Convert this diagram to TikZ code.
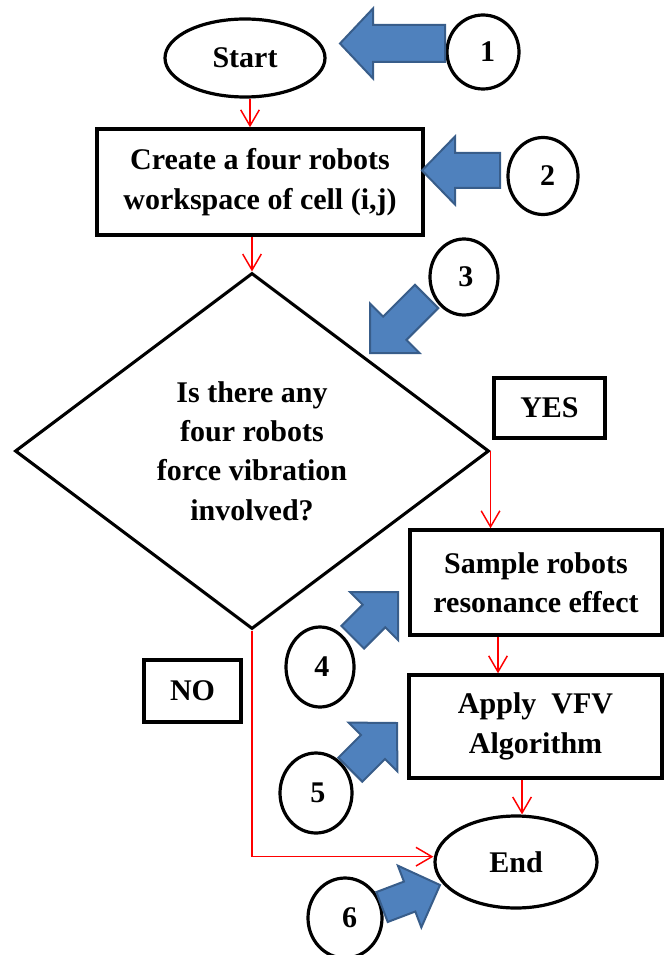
\documentclass[tikz,border=0pt]{standalone}
\usepackage{fontspec}
\setmainfont{Liberation Serif}
\usetikzlibrary{shapes.geometric,arrows.meta,calc}
\definecolor{arrowblue}{RGB}{79,129,189}
\definecolor{arrowedge}{RGB}{56,93,138}
\newcommand{\pxu}{*0.75pt}
\newcommand{\bluearrow}[7]{%
  \begin{scope}[shift={(#1,#2)},rotate=#3]
    \draw[barrow] (0,0) -- (-#5,#6) -- (-#5,#7) -- (-#4,#7) -- (-#4,-#7) -- (-#5,-#7) -- (-#5,-#6) -- cycle;
  \end{scope}}
\begin{document}
\begin{tikzpicture}[x=0.75pt,y=-0.75pt,
  every node/.style={font=\fontsize{22.5pt}{29.5pt}\selectfont\bfseries},
  term/.style={ellipse,draw,line width=2.4pt,inner sep=0pt},
  procbox/.style={rectangle,draw,line width=2.6pt,align=center,inner sep=0pt},
  numcirc/.style={ellipse,draw,line width=2.4pt,inner sep=0pt},
  decision/.style={diamond,draw,line width=2.3pt,align=center,inner sep=0pt,aspect=1.33},
  conn/.style={draw=red,line width=1.1pt,-{Straight Barb[length=12pt,width=14pt]}},
  barrow/.style={fill=arrowblue,draw=arrowedge,line width=1.5pt,line join=miter}
]
\useasboundingbox (0,0) rectangle (665,955);

% flow shapes
\node[term,minimum width=160\pxu,minimum height=78\pxu] (start) at (245,58) {Start};
\node[procbox,minimum width=326\pxu,minimum height=106\pxu] (box1) at (260,182) {Create a four robots\\workspace of cell (i,j)};
\node[decision,minimum width=474\pxu,minimum height=356\pxu] (dia) at (252,451) {Is there any\\four robots\\force vibration\\involved?};
\node[procbox,minimum width=111\pxu,minimum height=60\pxu] (yes) at (549.5,408) {YES};
\node[procbox,minimum width=97\pxu,minimum height=62\pxu] (no) at (192.5,691) {NO};
\node[procbox,minimum width=252\pxu,minimum height=105\pxu] (sample) at (536,582.5) {Sample robots\\resonance effect};
\node[procbox,minimum width=253\pxu,minimum height=103\pxu] (apply) at (535.5,726.5) {Apply\ \ VFV\\Algorithm};
\node[term,minimum width=162\pxu,minimum height=92\pxu] (end) at (516,862) {End};

% numbered circles
\node[numcirc,minimum width=72\pxu,minimum height=74\pxu,text width=18pt,align=right] (n1) at (483,52) {1};
\node[numcirc,minimum width=70\pxu,minimum height=77\pxu,text width=18pt,align=right] (n2) at (543,176) {2};
\node[numcirc,minimum width=68\pxu,minimum height=76\pxu,text width=14pt,align=right] (n3) at (464,277) {3};
\node[numcirc,minimum width=68\pxu,minimum height=80\pxu,text width=14pt,align=right] (n4) at (320,667) {4};
\node[numcirc,minimum width=72\pxu,minimum height=80\pxu,text width=14pt,align=right] (n5) at (316,793) {5};
\node[numcirc,minimum width=74\pxu,minimum height=80\pxu,text width=18pt,align=right] (n6) at (345,918) {6};

% red connectors
\draw[conn] ([xshift=3.75pt]start.south) -- ([xshift=3.75pt]start.south |- box1.north);
\draw[conn] (box1.south -| dia.north) -- (dia.north);
\draw[conn] (dia.east) -- (dia.east |- sample.north);
\draw[conn] ([xshift=-28.5pt]sample.south) -- ([xshift=-28.5pt]sample.south |- apply.north);
\draw[conn] ([xshift=-10.1pt]apply.south) -- ([xshift=-10.1pt]apply.south |- end.north);
\draw[conn] (dia.south) |- ([yshift=4pt]end.west);

% blue block arrows
\bluearrow{340}{43.5}{180}{105}{33}{35}{18.5}
\bluearrow{422}{170.5}{180}{78}{33}{34}{17.5}
\bluearrow{370}{353}{225}{80}{35}{35}{16.5}
\bluearrow{398}{592}{45}{64}{34}{34}{16}
\bluearrow{397}{723}{45}{66}{34}{34.6}{17}
\bluearrow{440}{885}{20.8}{62}{32.5}{33}{16}
\end{tikzpicture}
\end{document}
